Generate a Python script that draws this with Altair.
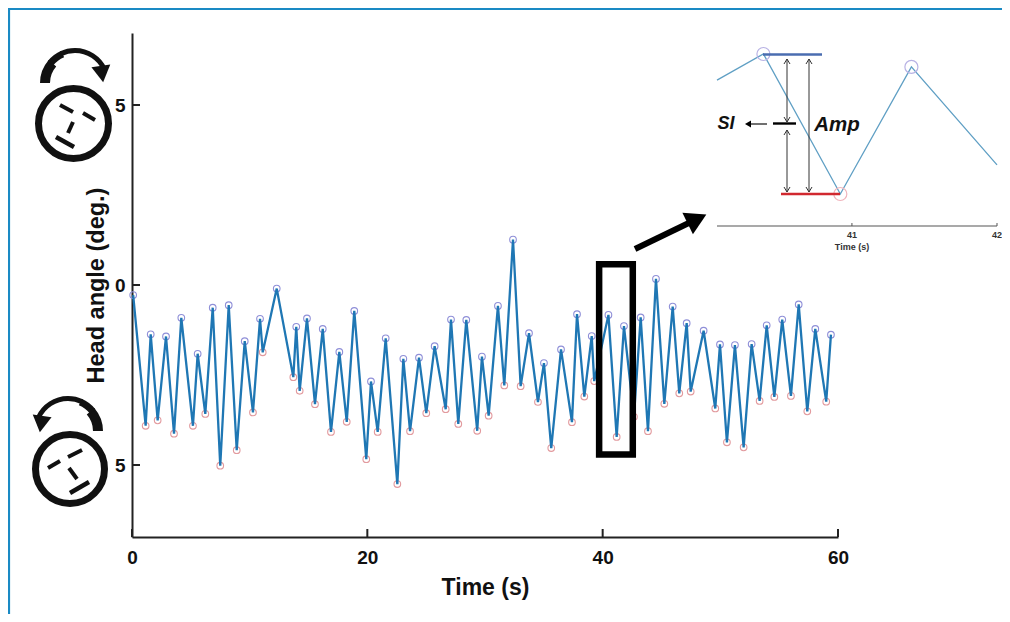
import math
import altair as alt
import pandas as pd

# Main trace: time (s) and head angle (deg.)
times = [0.1, 1.16, 1.59, 2.18, 2.89, 3.57, 4.19, 5.18, 5.58, 6.23, 6.86, 7.50, 8.22, 8.90, 9.58, 10.28,
         10.88, 11.11, 12.30, 13.71, 13.96, 14.25, 14.87, 15.55, 16.21, 16.91, 17.62, 18.25, 18.89, 19.91,
         20.31, 20.88, 21.56, 22.55, 23.06, 23.63, 24.39, 25.01, 25.72, 26.66, 27.11, 27.73, 28.41, 29.34,
         29.74, 30.31, 31.10, 31.64, 32.38, 33.03, 33.74, 34.50, 35.01, 35.63, 36.46, 37.39, 37.82, 38.44,
         39.07, 39.28, 40.49, 41.19, 41.81, 42.66, 43.23, 43.85, 44.53, 45.24, 45.95, 46.51, 47.14, 47.48,
         48.58, 49.57, 49.97, 50.56, 51.24, 51.98, 52.66, 53.34, 53.94, 54.59, 55.26, 56.00, 56.66, 57.39,
         58.07, 59.00, 59.40]
angles = [-0.28, -3.91, -1.37, -3.76, -1.43, -4.13, -0.91, -3.91, -1.91, -3.58, -0.63, -5.02, -0.56, -4.59,
          -1.56, -3.54, -0.94, -1.87, -0.10, -2.56, -1.16, -2.94, -0.93, -3.31, -1.22, -4.08, -1.86, -3.80,
          -0.72, -4.84, -2.68, -4.08, -1.48, -5.53, -2.05, -4.06, -2.02, -3.56, -1.70, -3.45, -0.96, -3.86,
          -0.97, -4.05, -1.99, -3.63, -0.58, -2.79, 1.26, -2.81, -1.34, -3.25, -2.17, -4.53, -1.79, -3.81,
          -0.81, -3.10, -1.42, -2.67, -0.83, -4.22, -1.14, -3.66, -0.90, -4.06, 0.17, -3.30, -0.60, -3.01,
          -1.06, -2.96, -1.27, -3.43, -1.65, -4.37, -1.67, -4.51, -1.64, -3.22, -1.12, -3.11, -0.96, -3.08,
          -0.54, -3.51, -1.22, -3.24, -1.38]
kinds = ["peak" if i % 2 == 0 else "trough" for i in range(len(times))]

# Inset trace
inset_times = [40.07, 40.39, 40.92, 41.41, 42.0]
inset_angles = [-1.46, -0.83, -4.2, -1.14, -3.5]
inset_kinds = ["none", "peak", "trough", "peak", "none"]

x_ticks = [0, 20, 40, 60]
y_ticks = [-5, 0, 5]
inset_ticks = [41, 42]
inset_span = [40.07, 42]

box_t = [39.7, 42.56]
box_a = [0.575, -4.71]

OX, OY = 132, 33
W, H = 706, 504
BLACK = "#111111"

main = pd.DataFrame({"t": times, "a": angles, "k": kinds})
inset = pd.DataFrame({"t": inset_times, "a": inset_angles, "k": inset_kinds})
one = pd.DataFrame({"o": [0]})

sx = alt.Scale(domain=[0, 60], nice=False, zero=False)
sy = alt.Scale(domain=[-7, 7], nice=False, zero=False)
ix = alt.Scale(domain=[40.07, 42], range=[585, 865], nice=False, zero=False)
iy = alt.Scale(domain=[-4.2, -0.83], range=[161, 21], nice=False, zero=False)
FONT = "Liberation Sans"


def seg(x1, y1, x2, y2, color=BLACK, w=4.0, cap="butt"):
    return alt.Chart(one).mark_rule(color=color, strokeWidth=w, strokeCap=cap).encode(
        x=alt.value(x1 - OX), x2=alt.value(x2 - OX), y=alt.value(y1 - OY), y2=alt.value(y2 - OY))


def ring(x, y, r, w=7):
    return alt.Chart(one).mark_point(shape="circle", size=(2 * r) ** 2, stroke=BLACK, strokeWidth=w,
                                     fillOpacity=0, opacity=1).encode(
        x=alt.value(x - OX), y=alt.value(y - OY))


def tri(x, y, base, angle, color=BLACK):
    return alt.Chart(one).mark_point(shape="triangle-up", size=base ** 2, filled=True, color=color,
                                     angle=angle, opacity=1).encode(
        x=alt.value(x - OX), y=alt.value(y - OY))


def arc(x, y, r_out, r_in, t0, t1):
    return alt.Chart(one).mark_arc(color=BLACK, radius=r_out, radius2=r_in, theta=t0, theta2=t1).encode(
        x=alt.value(x - OX), y=alt.value(y - OY))


def label(x, y, s, size, style="normal", weight="bold", color=BLACK):
    return alt.Chart(one).mark_text(text=s, font=FONT, fontSize=size, fontStyle=style, fontWeight=weight,
                                    color=color, align="center", baseline="middle").encode(
        x=alt.value(x - OX), y=alt.value(y - OY))


def dbl(x, y1, y2):
    c = "#333333"
    return [seg(x, y1, x, y2, c, 1.0), seg(x - 3, y1 + 5, x, y1, c, 1.0), seg(x + 3, y1 + 5, x, y1, c, 1.0),
            seg(x - 3, y2 - 5, x, y2, c, 1.0), seg(x + 3, y2 - 5, x, y2, c, 1.0)]


layers = []

# frame
layers += [seg(9, 8, 9, 614, "#1a8ac4", 2.2), seg(8, 9, 1002, 9, "#1a8ac4", 2.2)]

# circles
layers.append(alt.Chart(main).transform_filter("datum.k=='peak'").mark_point(
    shape="circle", size=44, stroke="#8f8fd8", strokeWidth=1.1, fillOpacity=0, opacity=1).encode(
    x=alt.X("t:Q", scale=sx, axis=None), y=alt.Y("a:Q", scale=sy, axis=None)))
layers.append(alt.Chart(main).transform_filter("datum.k=='trough'").mark_point(
    shape="circle", size=44, stroke="#e29a9e", strokeWidth=1.1, fillOpacity=0, opacity=1).encode(
    x=alt.X("t:Q", scale=sx, axis=None), y=alt.Y("a:Q", scale=sy, axis=None)))

# main trace with axes
layers.append(alt.Chart(main).mark_line(color="#1f77b4", strokeWidth=2.3, strokeJoin="miter").encode(
    x=alt.X("t:Q", scale=sx, axis=alt.Axis(
        title="Time (s)", values=x_ticks, grid=False, ticks=False, domainColor="#222222", domainWidth=2,
        labelFont=FONT, labelFontSize=19, labelFontWeight="bold", labelColor=BLACK, labelPadding=11,
        labelFlush=False, titleFont=FONT, titleFontSize=23, titleFontWeight="bold", titleColor=BLACK,
        titlePadding=9)),
    y=alt.Y("a:Q", scale=sy, axis=alt.Axis(
        title="Head angle (deg.)", values=y_ticks, grid=False, ticks=False, domainColor="#222222", domainWidth=2,
        labelExpr="abs(datum.value)", labelFont=FONT, labelFontSize=19, labelFontWeight="bold",
        labelColor=BLACK, labelPadding=7, titleFont=FONT, titleFontSize=23.5, titleFontWeight="bold",
        titleColor=BLACK, titlePadding=6)),
    order=alt.Order("t:Q")))

# inward ticks
layers.append(alt.Chart(pd.DataFrame({"v": x_ticks})).mark_rule(color="#222222", strokeWidth=2).encode(
    x=alt.X("v:Q", scale=sx, axis=None), y=alt.value(H - 8), y2=alt.value(H)))
layers.append(alt.Chart(pd.DataFrame({"v": y_ticks})).mark_rule(color="#222222", strokeWidth=2).encode(
    y=alt.Y("v:Q", scale=sy, axis=None), x=alt.value(0), x2=alt.value(8)))

# highlight box
layers.append(alt.Chart(pd.DataFrame({"x0": [box_t[0]], "x1": [box_t[1]], "y0": [box_a[0]], "y1": [box_a[1]]}))
              .mark_rect(fillOpacity=0, stroke="black", strokeWidth=6.5).encode(
    x=alt.X("x0:Q", scale=sx, axis=None), x2="x1:Q",
    y=alt.Y("y0:Q", scale=sy, axis=None), y2="y1:Q"))

# pointer arrow
layers += [seg(635, 249, 695, 220, "black", 6), tri(697, 219, 24, 64, "black")]

# inset trace
layers.append(alt.Chart(inset).mark_line(color="#5f9fc4", strokeWidth=1.3).encode(
    x=alt.X("t:Q", scale=ix, axis=None),
    y=alt.Y("a:Q", scale=iy, axis=None)))

# inset axis
layers.append(alt.Chart(pd.DataFrame({"v": [inset_span[0]], "v2": [inset_span[1]]})).mark_rule(
    color="#555555", strokeWidth=1.2).encode(
    x=alt.X("v:Q", scale=ix, axis=None), x2="v2:Q", y=alt.value(193)))
layers.append(alt.Chart(pd.DataFrame({"v": inset_ticks})).mark_rule(color="#555555", strokeWidth=1).encode(
    x=alt.X("v:Q", scale=ix, axis=None), y=alt.value(190), y2=alt.value(193)))
layers.append(alt.Chart(pd.DataFrame({"v": inset_ticks})).mark_text(
    font=FONT, fontSize=9, fontWeight="bold", color="#333333", baseline="middle").encode(
    x=alt.X("v:Q", scale=ix, axis=None), y=alt.value(202), text=alt.Text("v:Q", format="d")))
layers.append(label(852, 247, "Time (s)", 9, color="#333333"))

layers.append(alt.Chart(inset).transform_filter("datum.k=='peak'").mark_point(
    shape="circle", size=170, stroke="#b8b2e4", strokeWidth=1.2, fillOpacity=0, opacity=1).encode(
    x=alt.X("t:Q", scale=ix, axis=None), y=alt.Y("a:Q", scale=iy, axis=None)))
layers.append(alt.Chart(inset).transform_filter("datum.k=='trough'").mark_point(
    shape="circle", size=170, stroke="#f0b4bc", strokeWidth=1.2, fillOpacity=0, opacity=1).encode(
    x=alt.X("t:Q", scale=ix, axis=None), y=alt.Y("a:Q", scale=iy, axis=None)))

# inset annotations
layers += [seg(763, 54.5, 822, 54.5, "#4a6db0", 2.6), seg(781, 194, 840, 194, "#d1282f", 2.6)]
layers += dbl(787, 59, 122) + dbl(787, 130, 192) + dbl(809, 59, 192)
layers += [seg(773, 123.5, 796, 123.5, "black", 2.4), seg(751, 124, 767, 124, "#222222", 1.3),
           tri(748, 124, 7, 270, "black")]
layers += [label(726, 124, "SI", 18, "italic"), label(837, 125, "Amp", 20.5, "italic")]

# top head
T = 2 * math.pi
layers += [ring(73.5, 123.5, 35),
           seg(60, 105, 73, 112), seg(83, 113, 95, 120), seg(73, 122, 68, 133), seg(56, 137, 74, 147, w=4.5),
           arc(75, 83, 35, 25, 3 * math.pi / 2, T - 0.85),
           arc(75, 83, 35, 28, T - 0.9, T - 0.4),
           arc(75, 83, 35, 30, T - 0.45, T),
           arc(75, 83, 35, 30, 0, 1.15),
           tri(102, 74, 19, 172)]

# bottom head
layers += [ring(70, 469, 34.5),
           seg(48, 468, 60, 461), seg(68, 457, 82, 450), seg(69, 468, 77, 479), seg(70, 493, 89, 482, w=4.5),
           arc(68, 431, 35, 25, 0.85, math.pi / 2),
           arc(68, 431, 35, 28, 0.4, 0.9),
           arc(68, 431, 35, 30, 0, 0.45),
           arc(68, 431, 35, 30, T - 1.15, T),
           tri(41, 424, 19, 188)]

chart = alt.layer(*layers).resolve_scale(x="independent", y="independent").properties(
    width=W, height=H,
    padding={"left": OX - 8, "top": OY - 8, "right": 994 - (OX - 8) - W, "bottom": 606 - (OY - 8) - H},
    autosize=alt.AutoSizeParams(type="none"),
    background="white",
).configure_view(stroke=None)

chart.save("out.html", embed_options={"renderer": "svg", "actions": False})
